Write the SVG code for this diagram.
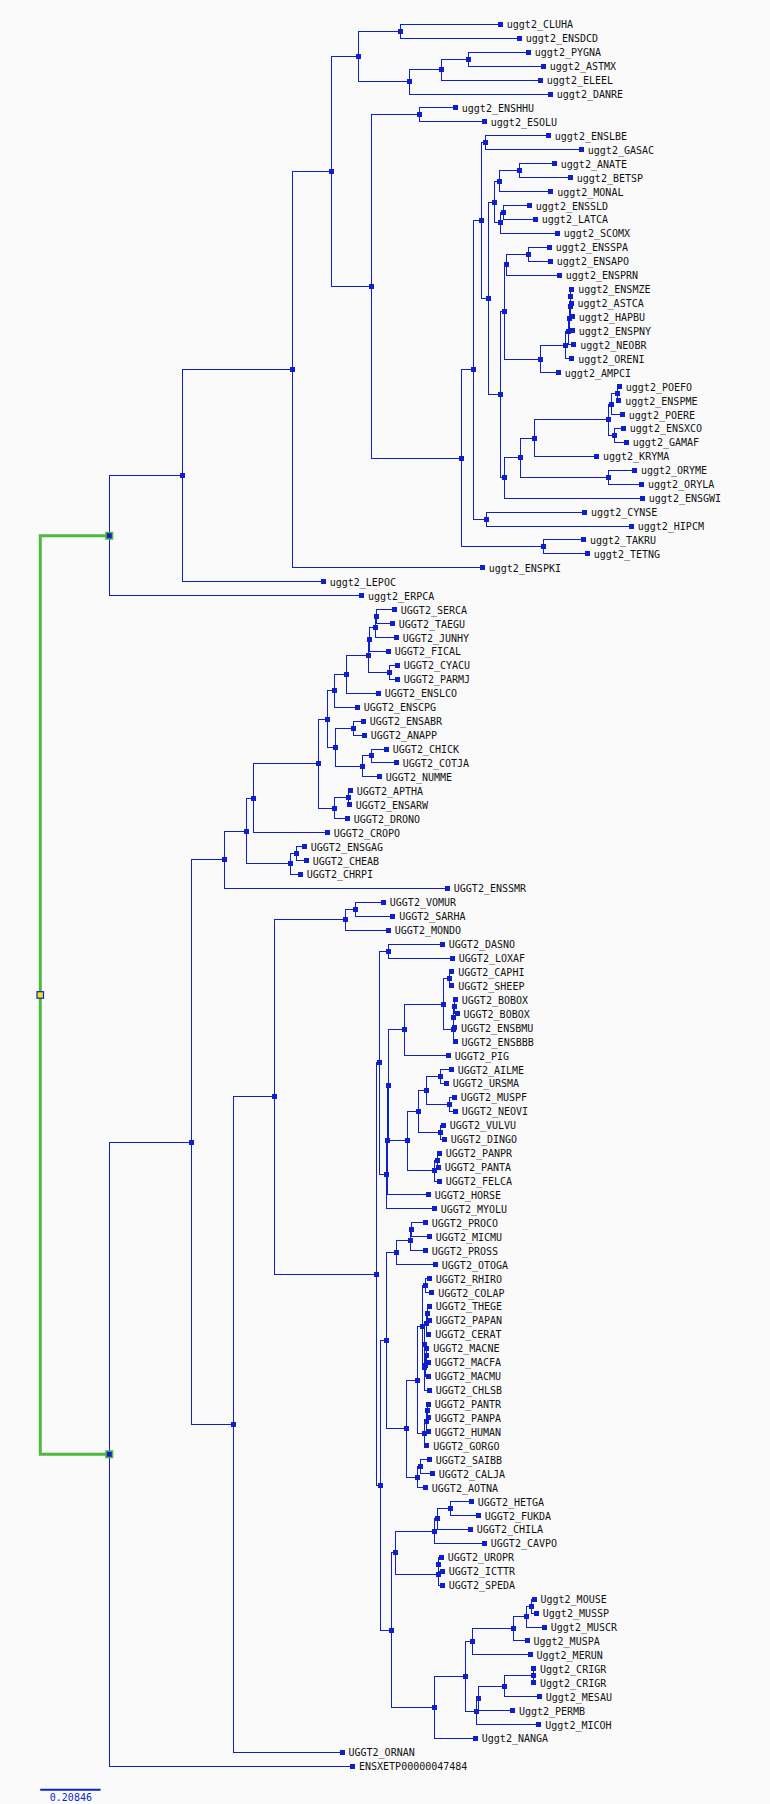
<svg xmlns="http://www.w3.org/2000/svg" xmlns:xlink="http://www.w3.org/1999/xlink" width="770" height="1804" viewBox="0 0 770 1804">
<style>
.e{fill:none;stroke:#0f1fcc;stroke-width:1;shape-rendering:crispEdges}
.g{fill:none;stroke:#4cbb3a;stroke-width:3}
.sq{fill:#0f1fcc;shape-rendering:crispEdges}
text{font-family:"DejaVu Sans Mono","Liberation Mono",monospace;font-size:10px;fill:#111}
.sb{fill:#0f1fcc}
</style>
<defs>
<rect id="s" class="sq" x="-2.5" y="-2.5" width="5" height="5"/>
</defs>
<rect width="770" height="1804" fill="#fafafa"/>
<g id="connectors">
<path class="g" d="M109.3 535.7H40.3V1454.2H109.3"/>
<path class="e" d="M500.3 24.3H400.3V38.2H519.3M528.3 52.2H468.3V66.1H543.3M468.3 59.15H441.3V80H540.3M441.3 69.6H409.3V94H550.3M400.3 31.25H358.3V81.8H409.3M455.3 107.9H419.3V121.9H484.3M548.3 135.8H485.3V149.7H581.3M554.3 163.7H519.3V177.6H570.3M519.3 170.65H499.3V191.5H550.7M529.3 205.5H503.3V219.4H535.3M503.3 212.45H500.3V233.3H557.3M499.3 181.1H494.3V222.9H500.3M549.3 247.3H528.3V261.2H550.3M528.3 254.25H506.3V275.1H559.3M571.7 289.1H570.8V303H571M570.8 296.05H570V316.9H572.3M570 306.5H569.3V330.9H572.3M569.3 318.7H568.5V344.8H573.7M568.5 331.75H565.3V358.8H571.7M565.3 345.3H540.3V372.7H558.3M506.3 264.7H504.3V359H540.3M619.3 386.6H617.3V400.6H618.7M617.3 393.6H611V414.5H622.3M623.3 428.4H614.3V442.4H626.3M611 404.05H608.3V435.4H614.3M608.3 419.7H534.3V456.3H596.5M634.4 470.3H608.3V484.2H641.5M534.3 438H520.5V477.25H608.3M520.5 457.6H504.3V498.1H642.3M504.3 311.85H500.3V477.85H504.3M494.3 202H488.3V394.85H500.3M485.3 142.75H481.3V298.4H488.3M584.6 512.1H486.5V526H631.2M481.3 220.6H473.7V519.05H486.5M583.4 539.9H543V553.9H587.3M473.7 369.8H461.2V546.9H543M419.3 114.9H371.3V458.35H461.2M358.3 56.5H331.3V286.6H371.3M331.3 171.55H292.3V567.8H482.2M292.3 369.7H182.4V581.7H323.2M182.4 475.7H109.3V595.7H361.5"/>
<path class="e" d="M394.3 609.6H376.3V623.5H392.3M376.3 616.55H375.3V637.5H396.3M375.3 627H369.3V651.4H388.3M397.3 665.3H389.3V679.3H397.3M369.3 639.2H368.3V672.3H389.3M368.3 655.75H346.3V693.2H378.3M346.3 674.5H334.3V707.2H357.3M363.3 721.1H353.3V735H364.3M386.3 749H371.3V762.9H396.3M371.3 755.95H362.3V776.8H379.3M353.3 728.05H335.3V766.4H362.3M334.3 690.85H327.3V747.2H335.3M350.3 790.8H348.3V804.7H349.3M348.3 797.75H334.3V818.6H347.3M327.3 719H318.3V808.2H334.3M318.3 763.6H253.3V832.6H327.3M304.3 846.5H296.3V860.5H306.3M296.3 853.5H290.3V874.4H300.3M253.3 798.1H246.3V863.95H290.3M246.3 831H224.3V888.3H447.3"/>
<path class="e" d="M383.3 902.3H355.3V916.2H392.7M355.3 909.25H345.3V930.1H388.3M442.3 944.1H388.3V958H452.3M451.7 971.9H449.3V985.9H451.7M455.3 999.8H454V1013.8H457M454 1006.8H453.5V1027.7H454.5M453.5 1017.25H453V1041.6H455M449.3 978.9H443.3V1029.4H453M443.3 1004.15H404.3V1055.6H448.3M451.3 1069.5H440.3V1083.4H446.3M454.3 1097.4H449.3V1111.3H455.3M440.3 1076.45H426.3V1104.35H449.3M443.3 1125.2H440.3V1139.2H444.3M426.3 1090.4H418.3V1132.2H440.3M439.3 1153.1H437.3V1167.1H438.3M437.3 1160.1H434.3V1181H439.3M418.3 1111.3H407.3V1170.55H434.3M404.3 1029.9H388.3V1140.9H407.3M388.3 1085.4H387.3V1194.9H428.3M387.3 1140.15H386.3V1208.9H434.3M388.3 951.05H379.3V1174.5H386.3M425.3 1222.8H411.3V1236.7H429.3M411.3 1229.75H410.3V1250.7H425.3M410.3 1240.2H396.3V1264.6H435.3M429.3 1278.5H425.3V1292.5H431.7M429.3 1306.4H427.3V1320.4H429.3M427.3 1313.4H426.3V1334.3H428.7M426.7 1348.2H426V1362.2H428.3M426 1355.2H425.5V1376.1H428.3M426.3 1323.85H424.8V1365.65H425.5M424.8 1344.75H424.3V1390H429.3M425.3 1285.5H422.3V1367.4H424.3M428.3 1404H427.3V1417.9H428.3M427.3 1410.95H426V1431.8H428.3M426 1421.4H424.3V1445.8H426.7M422.3 1326.45H417.3V1433.6H424.3M429.3 1459.7H420.3V1473.7H432.3M420.3 1466.7H417.3V1487.6H425.3M417.3 1380H406.3V1477.15H417.3M396.3 1252.4H386.3V1428.6H406.3M471.3 1501.5H450.3V1515.5H478.3M450.3 1508.5H437.3V1529.4H470.3M437.3 1518.95H434.3V1543.3H484.3M441.3 1557.3H438.8V1571.2H442.3M438.8 1564.25H438.3V1585.1H442.3M434.3 1531.1H395.3V1574.7H438.3M534 1599.1H531V1613H536.3M531 1606.05H526V1627H544.3M526 1616.5H513.3V1640.9H527M513.3 1628.7H472.3V1654.8H530M533.5 1668.8V1682.7M533.5 1675.75H504.4V1696.6H539.2M504.4 1686.2H478.4V1710.6H512.4M478.4 1698.4H476.5V1724.5H538.8M472.3 1641.75H465.4V1711.45H476.5M465.4 1676.6H434.4V1738.4H475.3M395.3 1552.9H391.3V1707.5H434.4M386.3 1340.5H380.3V1630.2H391.3M379.3 1062.8H376.3V1485.35H380.3M345.3 919.7H274.3V1274.1H376.3M274.3 1096.9H233.3V1752.4H342M224.3 859.65H191.3V1424.65H233.3M191.3 1142.15H109.3V1766.3H352.5"/>
</g>
<g id="leaves">
<g id="L_CLUHA" transform="translate(500.3,24.3)"><use href="#s"/><text x="6.5" y="4">uggt2_CLUHA</text></g>
<g id="L_ENSDCD" transform="translate(519.3,38.2)"><use href="#s"/><text x="6.5" y="4">uggt2_ENSDCD</text></g>
<g id="L_PYGNA" transform="translate(528.3,52.2)"><use href="#s"/><text x="6.5" y="4">uggt2_PYGNA</text></g>
<g id="L_ASTMX" transform="translate(543.3,66.1)"><use href="#s"/><text x="6.5" y="4">uggt2_ASTMX</text></g>
<g id="L_ELEEL" transform="translate(540.3,80)"><use href="#s"/><text x="6.5" y="4">uggt2_ELEEL</text></g>
<g id="L_DANRE" transform="translate(550.3,94)"><use href="#s"/><text x="6.5" y="4">uggt2_DANRE</text></g>
<g id="L_ENSHHU" transform="translate(455.3,107.9)"><use href="#s"/><text x="6.5" y="4">uggt2_ENSHHU</text></g>
<g id="L_ESOLU" transform="translate(484.3,121.9)"><use href="#s"/><text x="6.5" y="4">uggt2_ESOLU</text></g>
<g id="L_ENSLBE" transform="translate(548.3,135.8)"><use href="#s"/><text x="6.5" y="4">uggt2_ENSLBE</text></g>
<g id="L_GASAC" transform="translate(581.3,149.7)"><use href="#s"/><text x="6.5" y="4">uggt2_GASAC</text></g>
<g id="L_ANATE" transform="translate(554.3,163.7)"><use href="#s"/><text x="6.5" y="4">uggt2_ANATE</text></g>
<g id="L_BETSP" transform="translate(570.3,177.6)"><use href="#s"/><text x="6.5" y="4">uggt2_BETSP</text></g>
<g id="L_MONAL" transform="translate(550.7,191.5)"><use href="#s"/><text x="6.5" y="4">uggt2_MONAL</text></g>
<g id="L_ENSSLD" transform="translate(529.3,205.5)"><use href="#s"/><text x="6.5" y="4">uggt2_ENSSLD</text></g>
<g id="L_LATCA" transform="translate(535.3,219.4)"><use href="#s"/><text x="6.5" y="4">uggt2_LATCA</text></g>
<g id="L_SCOMX" transform="translate(557.3,233.3)"><use href="#s"/><text x="6.5" y="4">uggt2_SCOMX</text></g>
<g id="L_ENSSPA" transform="translate(549.3,247.3)"><use href="#s"/><text x="6.5" y="4">uggt2_ENSSPA</text></g>
<g id="L_ENSAPO" transform="translate(550.3,261.2)"><use href="#s"/><text x="6.5" y="4">uggt2_ENSAPO</text></g>
<g id="L_ENSPRN" transform="translate(559.3,275.1)"><use href="#s"/><text x="6.5" y="4">uggt2_ENSPRN</text></g>
<g id="L_ENSMZE" transform="translate(571.7,289.1)"><use href="#s"/><text x="6.5" y="4">uggt2_ENSMZE</text></g>
<g id="L_ASTCA" transform="translate(571,303)"><use href="#s"/><text x="6.5" y="4">uggt2_ASTCA</text></g>
<g id="L_HAPBU" transform="translate(572.3,316.9)"><use href="#s"/><text x="6.5" y="4">uggt2_HAPBU</text></g>
<g id="L_ENSPNY" transform="translate(572.3,330.9)"><use href="#s"/><text x="6.5" y="4">uggt2_ENSPNY</text></g>
<g id="L_NEOBR" transform="translate(573.7,344.8)"><use href="#s"/><text x="6.5" y="4">uggt2_NEOBR</text></g>
<g id="L_ORENI" transform="translate(571.7,358.8)"><use href="#s"/><text x="6.5" y="4">uggt2_ORENI</text></g>
<g id="L_AMPCI" transform="translate(558.3,372.7)"><use href="#s"/><text x="6.5" y="4">uggt2_AMPCI</text></g>
<g id="L_POEFO" transform="translate(619.3,386.6)"><use href="#s"/><text x="6.5" y="4">uggt2_POEFO</text></g>
<g id="L_ENSPME" transform="translate(618.7,400.6)"><use href="#s"/><text x="6.5" y="4">uggt2_ENSPME</text></g>
<g id="L_POERE" transform="translate(622.3,414.5)"><use href="#s"/><text x="6.5" y="4">uggt2_POERE</text></g>
<g id="L_ENSXCO" transform="translate(623.3,428.4)"><use href="#s"/><text x="6.5" y="4">uggt2_ENSXCO</text></g>
<g id="L_GAMAF" transform="translate(626.3,442.4)"><use href="#s"/><text x="6.5" y="4">uggt2_GAMAF</text></g>
<g id="L_KRYMA" transform="translate(596.5,456.3)"><use href="#s"/><text x="6.5" y="4">uggt2_KRYMA</text></g>
<g id="L_ORYME" transform="translate(634.4,470.3)"><use href="#s"/><text x="6.5" y="4">uggt2_ORYME</text></g>
<g id="L_ORYLA" transform="translate(641.5,484.2)"><use href="#s"/><text x="6.5" y="4">uggt2_ORYLA</text></g>
<g id="L_ENSGWI" transform="translate(642.3,498.1)"><use href="#s"/><text x="6.5" y="4">uggt2_ENSGWI</text></g>
<g id="L_CYNSE" transform="translate(584.6,512.1)"><use href="#s"/><text x="6.5" y="4">uggt2_CYNSE</text></g>
<g id="L_HIPCM" transform="translate(631.2,526)"><use href="#s"/><text x="6.5" y="4">uggt2_HIPCM</text></g>
<g id="L_TAKRU" transform="translate(583.4,539.9)"><use href="#s"/><text x="6.5" y="4">uggt2_TAKRU</text></g>
<g id="L_TETNG" transform="translate(587.3,553.9)"><use href="#s"/><text x="6.5" y="4">uggt2_TETNG</text></g>
<g id="L_ENSPKI" transform="translate(482.2,567.8)"><use href="#s"/><text x="6.5" y="4">uggt2_ENSPKI</text></g>
<g id="L_LEPOC" transform="translate(323.2,581.7)"><use href="#s"/><text x="6.5" y="4">uggt2_LEPOC</text></g>
<g id="L_ERPCA" transform="translate(361.5,595.7)"><use href="#s"/><text x="6.5" y="4">uggt2_ERPCA</text></g>
<g id="L_SERCA" transform="translate(394.3,609.6)"><use href="#s"/><text x="6.5" y="4">UGGT2_SERCA</text></g>
<g id="L_TAEGU" transform="translate(392.3,623.5)"><use href="#s"/><text x="6.5" y="4">UGGT2_TAEGU</text></g>
<g id="L_JUNHY" transform="translate(396.3,637.5)"><use href="#s"/><text x="6.5" y="4">UGGT2_JUNHY</text></g>
<g id="L_FICAL" transform="translate(388.3,651.4)"><use href="#s"/><text x="6.5" y="4">UGGT2_FICAL</text></g>
<g id="L_CYACU" transform="translate(397.3,665.3)"><use href="#s"/><text x="6.5" y="4">UGGT2_CYACU</text></g>
<g id="L_PARMJ" transform="translate(397.3,679.3)"><use href="#s"/><text x="6.5" y="4">UGGT2_PARMJ</text></g>
<g id="L_ENSLCO" transform="translate(378.3,693.2)"><use href="#s"/><text x="6.5" y="4">UGGT2_ENSLCO</text></g>
<g id="L_ENSCPG" transform="translate(357.3,707.2)"><use href="#s"/><text x="6.5" y="4">UGGT2_ENSCPG</text></g>
<g id="L_ENSABR" transform="translate(363.3,721.1)"><use href="#s"/><text x="6.5" y="4">UGGT2_ENSABR</text></g>
<g id="L_ANAPP" transform="translate(364.3,735)"><use href="#s"/><text x="6.5" y="4">UGGT2_ANAPP</text></g>
<g id="L_CHICK" transform="translate(386.3,749)"><use href="#s"/><text x="6.5" y="4">UGGT2_CHICK</text></g>
<g id="L_COTJA" transform="translate(396.3,762.9)"><use href="#s"/><text x="6.5" y="4">UGGT2_COTJA</text></g>
<g id="L_NUMME" transform="translate(379.3,776.8)"><use href="#s"/><text x="6.5" y="4">UGGT2_NUMME</text></g>
<g id="L_APTHA" transform="translate(350.3,790.8)"><use href="#s"/><text x="6.5" y="4">UGGT2_APTHA</text></g>
<g id="L_ENSARW" transform="translate(349.3,804.7)"><use href="#s"/><text x="6.5" y="4">UGGT2_ENSARW</text></g>
<g id="L_DRONO" transform="translate(347.3,818.6)"><use href="#s"/><text x="6.5" y="4">UGGT2_DRONO</text></g>
<g id="L_CROPO" transform="translate(327.3,832.6)"><use href="#s"/><text x="6.5" y="4">UGGT2_CROPO</text></g>
<g id="L_ENSGAG" transform="translate(304.3,846.5)"><use href="#s"/><text x="6.5" y="4">UGGT2_ENSGAG</text></g>
<g id="L_CHEAB" transform="translate(306.3,860.5)"><use href="#s"/><text x="6.5" y="4">UGGT2_CHEAB</text></g>
<g id="L_CHRPI" transform="translate(300.3,874.4)"><use href="#s"/><text x="6.5" y="4">UGGT2_CHRPI</text></g>
<g id="L_ENSSMR" transform="translate(447.3,888.3)"><use href="#s"/><text x="6.5" y="4">UGGT2_ENSSMR</text></g>
<g id="L_VOMUR" transform="translate(383.3,902.3)"><use href="#s"/><text x="6.5" y="4">UGGT2_VOMUR</text></g>
<g id="L_SARHA" transform="translate(392.7,916.2)"><use href="#s"/><text x="6.5" y="4">UGGT2_SARHA</text></g>
<g id="L_MONDO" transform="translate(388.3,930.1)"><use href="#s"/><text x="6.5" y="4">UGGT2_MONDO</text></g>
<g id="L_DASNO" transform="translate(442.3,944.1)"><use href="#s"/><text x="6.5" y="4">UGGT2_DASNO</text></g>
<g id="L_LOXAF" transform="translate(452.3,958)"><use href="#s"/><text x="6.5" y="4">UGGT2_LOXAF</text></g>
<g id="L_CAPHI" transform="translate(451.7,971.9)"><use href="#s"/><text x="6.5" y="4">UGGT2_CAPHI</text></g>
<g id="L_SHEEP" transform="translate(451.7,985.9)"><use href="#s"/><text x="6.5" y="4">UGGT2_SHEEP</text></g>
<g id="L_BOBOX_1" transform="translate(455.3,999.8)"><use href="#s"/><text x="6.5" y="4">UGGT2_BOBOX</text></g>
<g id="L_BOBOX_2" transform="translate(457,1013.8)"><use href="#s"/><text x="6.5" y="4">UGGT2_BOBOX</text></g>
<g id="L_ENSBMU" transform="translate(454.5,1027.7)"><use href="#s"/><text x="6.5" y="4">UGGT2_ENSBMU</text></g>
<g id="L_ENSBBB" transform="translate(455,1041.6)"><use href="#s"/><text x="6.5" y="4">UGGT2_ENSBBB</text></g>
<g id="L_PIG" transform="translate(448.3,1055.6)"><use href="#s"/><text x="6.5" y="4">UGGT2_PIG</text></g>
<g id="L_AILME" transform="translate(451.3,1069.5)"><use href="#s"/><text x="6.5" y="4">UGGT2_AILME</text></g>
<g id="L_URSMA" transform="translate(446.3,1083.4)"><use href="#s"/><text x="6.5" y="4">UGGT2_URSMA</text></g>
<g id="L_MUSPF" transform="translate(454.3,1097.4)"><use href="#s"/><text x="6.5" y="4">UGGT2_MUSPF</text></g>
<g id="L_NEOVI" transform="translate(455.3,1111.3)"><use href="#s"/><text x="6.5" y="4">UGGT2_NEOVI</text></g>
<g id="L_VULVU" transform="translate(443.3,1125.2)"><use href="#s"/><text x="6.5" y="4">UGGT2_VULVU</text></g>
<g id="L_DINGO" transform="translate(444.3,1139.2)"><use href="#s"/><text x="6.5" y="4">UGGT2_DINGO</text></g>
<g id="L_PANPR" transform="translate(439.3,1153.1)"><use href="#s"/><text x="6.5" y="4">UGGT2_PANPR</text></g>
<g id="L_PANTA" transform="translate(438.3,1167.1)"><use href="#s"/><text x="6.5" y="4">UGGT2_PANTA</text></g>
<g id="L_FELCA" transform="translate(439.3,1181)"><use href="#s"/><text x="6.5" y="4">UGGT2_FELCA</text></g>
<g id="L_HORSE" transform="translate(428.3,1194.9)"><use href="#s"/><text x="6.5" y="4">UGGT2_HORSE</text></g>
<g id="L_MYOLU" transform="translate(434.3,1208.9)"><use href="#s"/><text x="6.5" y="4">UGGT2_MYOLU</text></g>
<g id="L_PROCO" transform="translate(425.3,1222.8)"><use href="#s"/><text x="6.5" y="4">UGGT2_PROCO</text></g>
<g id="L_MICMU" transform="translate(429.3,1236.7)"><use href="#s"/><text x="6.5" y="4">UGGT2_MICMU</text></g>
<g id="L_PROSS" transform="translate(425.3,1250.7)"><use href="#s"/><text x="6.5" y="4">UGGT2_PROSS</text></g>
<g id="L_OTOGA" transform="translate(435.3,1264.6)"><use href="#s"/><text x="6.5" y="4">UGGT2_OTOGA</text></g>
<g id="L_RHIRO" transform="translate(429.3,1278.5)"><use href="#s"/><text x="6.5" y="4">UGGT2_RHIRO</text></g>
<g id="L_COLAP" transform="translate(431.7,1292.5)"><use href="#s"/><text x="6.5" y="4">UGGT2_COLAP</text></g>
<g id="L_THEGE" transform="translate(429.3,1306.4)"><use href="#s"/><text x="6.5" y="4">UGGT2_THEGE</text></g>
<g id="L_PAPAN" transform="translate(429.3,1320.4)"><use href="#s"/><text x="6.5" y="4">UGGT2_PAPAN</text></g>
<g id="L_CERAT" transform="translate(428.7,1334.3)"><use href="#s"/><text x="6.5" y="4">UGGT2_CERAT</text></g>
<g id="L_MACNE" transform="translate(426.7,1348.2)"><use href="#s"/><text x="6.5" y="4">UGGT2_MACNE</text></g>
<g id="L_MACFA" transform="translate(428.3,1362.2)"><use href="#s"/><text x="6.5" y="4">UGGT2_MACFA</text></g>
<g id="L_MACMU" transform="translate(428.3,1376.1)"><use href="#s"/><text x="6.5" y="4">UGGT2_MACMU</text></g>
<g id="L_CHLSB" transform="translate(429.3,1390)"><use href="#s"/><text x="6.5" y="4">UGGT2_CHLSB</text></g>
<g id="L_PANTR" transform="translate(428.3,1404)"><use href="#s"/><text x="6.5" y="4">UGGT2_PANTR</text></g>
<g id="L_PANPA" transform="translate(428.3,1417.9)"><use href="#s"/><text x="6.5" y="4">UGGT2_PANPA</text></g>
<g id="L_HUMAN" transform="translate(428.3,1431.8)"><use href="#s"/><text x="6.5" y="4">UGGT2_HUMAN</text></g>
<g id="L_GORGO" transform="translate(426.7,1445.8)"><use href="#s"/><text x="6.5" y="4">UGGT2_GORGO</text></g>
<g id="L_SAIBB" transform="translate(429.3,1459.7)"><use href="#s"/><text x="6.5" y="4">UGGT2_SAIBB</text></g>
<g id="L_CALJA" transform="translate(432.3,1473.7)"><use href="#s"/><text x="6.5" y="4">UGGT2_CALJA</text></g>
<g id="L_AOTNA" transform="translate(425.3,1487.6)"><use href="#s"/><text x="6.5" y="4">UGGT2_AOTNA</text></g>
<g id="L_HETGA" transform="translate(471.3,1501.5)"><use href="#s"/><text x="6.5" y="4">UGGT2_HETGA</text></g>
<g id="L_FUKDA" transform="translate(478.3,1515.5)"><use href="#s"/><text x="6.5" y="4">UGGT2_FUKDA</text></g>
<g id="L_CHILA" transform="translate(470.3,1529.4)"><use href="#s"/><text x="6.5" y="4">UGGT2_CHILA</text></g>
<g id="L_CAVPO" transform="translate(484.3,1543.3)"><use href="#s"/><text x="6.5" y="4">UGGT2_CAVPO</text></g>
<g id="L_UROPR" transform="translate(441.3,1557.3)"><use href="#s"/><text x="6.5" y="4">UGGT2_UROPR</text></g>
<g id="L_ICTTR" transform="translate(442.3,1571.2)"><use href="#s"/><text x="6.5" y="4">UGGT2_ICTTR</text></g>
<g id="L_SPEDA" transform="translate(442.3,1585.1)"><use href="#s"/><text x="6.5" y="4">UGGT2_SPEDA</text></g>
<g id="L_MOUSE" transform="translate(534,1599.1)"><use href="#s"/><text x="6.5" y="4">Uggt2_MOUSE</text></g>
<g id="L_MUSSP" transform="translate(536.3,1613)"><use href="#s"/><text x="6.5" y="4">Uggt2_MUSSP</text></g>
<g id="L_MUSCR" transform="translate(544.3,1627)"><use href="#s"/><text x="6.5" y="4">Uggt2_MUSCR</text></g>
<g id="L_MUSPA" transform="translate(527,1640.9)"><use href="#s"/><text x="6.5" y="4">Uggt2_MUSPA</text></g>
<g id="L_MERUN" transform="translate(530,1654.8)"><use href="#s"/><text x="6.5" y="4">Uggt2_MERUN</text></g>
<g id="L_CRIGR_1" transform="translate(533.5,1668.8)"><use href="#s"/><text x="6.5" y="4">Uggt2_CRIGR</text></g>
<g id="L_CRIGR_2" transform="translate(533.5,1682.7)"><use href="#s"/><text x="6.5" y="4">Uggt2_CRIGR</text></g>
<g id="L_MESAU" transform="translate(539.2,1696.6)"><use href="#s"/><text x="6.5" y="4">Uggt2_MESAU</text></g>
<g id="L_PERMB" transform="translate(512.4,1710.6)"><use href="#s"/><text x="6.5" y="4">Uggt2_PERMB</text></g>
<g id="L_MICOH" transform="translate(538.8,1724.5)"><use href="#s"/><text x="6.5" y="4">Uggt2_MICOH</text></g>
<g id="L_NANGA" transform="translate(475.3,1738.4)"><use href="#s"/><text x="6.5" y="4">Uggt2_NANGA</text></g>
<g id="L_ORNAN" transform="translate(342,1752.4)"><use href="#s"/><text x="6.5" y="4">UGGT2_ORNAN</text></g>
<g id="L_ENSXETP" transform="translate(352.5,1766.3)"><use href="#s"/><text x="6.5" y="4">ENSXETP00000047484</text></g>
</g>
<g id="internal-nodes">
<g id="n_Fa" transform="translate(400.3,31.25)"><use href="#s"/></g>
<g id="n_Fb" transform="translate(468.3,59.15)"><use href="#s"/></g>
<g id="n_Fc" transform="translate(441.3,69.6)"><use href="#s"/></g>
<g id="n_Fd" transform="translate(409.3,81.8)"><use href="#s"/></g>
<g id="n_Fe" transform="translate(358.3,56.5)"><use href="#s"/></g>
<g id="n_Ff" transform="translate(419.3,114.9)"><use href="#s"/></g>
<g id="n_Fg" transform="translate(485.3,142.75)"><use href="#s"/></g>
<g id="n_Fh" transform="translate(519.3,170.65)"><use href="#s"/></g>
<g id="n_Fi" transform="translate(499.3,181.1)"><use href="#s"/></g>
<g id="n_Fj" transform="translate(503.3,212.45)"><use href="#s"/></g>
<g id="n_Fk" transform="translate(500.3,222.9)"><use href="#s"/></g>
<g id="n_Fl" transform="translate(494.3,202)"><use href="#s"/></g>
<g id="n_Fm" transform="translate(528.3,254.25)"><use href="#s"/></g>
<g id="n_Fn" transform="translate(506.3,264.7)"><use href="#s"/></g>
<g id="n_Ca" transform="translate(570.8,296.05)"><use href="#s"/></g>
<g id="n_Cb" transform="translate(570,306.5)"><use href="#s"/></g>
<g id="n_Cc" transform="translate(569.3,318.7)"><use href="#s"/></g>
<g id="n_Cd" transform="translate(568.5,331.75)"><use href="#s"/></g>
<g id="n_Ce" transform="translate(565.3,345.3)"><use href="#s"/></g>
<g id="n_Fo" transform="translate(540.3,359)"><use href="#s"/></g>
<g id="n_Fp" transform="translate(504.3,311.85)"><use href="#s"/></g>
<g id="n_Pa" transform="translate(617.3,393.6)"><use href="#s"/></g>
<g id="n_Pb" transform="translate(611,404.05)"><use href="#s"/></g>
<g id="n_Pc" transform="translate(614.3,435.4)"><use href="#s"/></g>
<g id="n_Pd" transform="translate(608.3,419.7)"><use href="#s"/></g>
<g id="n_K" transform="translate(534.3,438)"><use href="#s"/></g>
<g id="n_O" transform="translate(608.3,477.25)"><use href="#s"/></g>
<g id="n_M" transform="translate(520.5,457.6)"><use href="#s"/></g>
<g id="n_N" transform="translate(504.3,477.85)"><use href="#s"/></g>
<g id="n_Fq" transform="translate(500.3,394.85)"><use href="#s"/></g>
<g id="n_Fr" transform="translate(488.3,298.4)"><use href="#s"/></g>
<g id="n_Fs" transform="translate(481.3,220.6)"><use href="#s"/></g>
<g id="n_Ft" transform="translate(486.5,519.05)"><use href="#s"/></g>
<g id="n_P" transform="translate(473.7,369.8)"><use href="#s"/></g>
<g id="n_Fu" transform="translate(543,546.9)"><use href="#s"/></g>
<g id="n_Q" transform="translate(461.2,458.35)"><use href="#s"/></g>
<g id="n_Fv" transform="translate(371.3,286.6)"><use href="#s"/></g>
<g id="n_Fw" transform="translate(331.3,171.55)"><use href="#s"/></g>
<g id="n_R" transform="translate(292.3,369.7)"><use href="#s"/></g>
<g id="n_S" transform="translate(182.4,475.7)"><use href="#s"/></g>
<g id="n_Ba" transform="translate(376.3,616.55)"><use href="#s"/></g>
<g id="n_Bb" transform="translate(375.3,627)"><use href="#s"/></g>
<g id="n_Bc" transform="translate(369.3,639.2)"><use href="#s"/></g>
<g id="n_Bd" transform="translate(389.3,672.3)"><use href="#s"/></g>
<g id="n_Be" transform="translate(368.3,655.75)"><use href="#s"/></g>
<g id="n_Bf" transform="translate(346.3,674.5)"><use href="#s"/></g>
<g id="n_Bg" transform="translate(334.3,690.85)"><use href="#s"/></g>
<g id="n_Bh" transform="translate(353.3,728.05)"><use href="#s"/></g>
<g id="n_Bi" transform="translate(371.3,755.95)"><use href="#s"/></g>
<g id="n_Bj" transform="translate(362.3,766.4)"><use href="#s"/></g>
<g id="n_Bk" transform="translate(335.3,747.2)"><use href="#s"/></g>
<g id="n_Bl" transform="translate(327.3,719)"><use href="#s"/></g>
<g id="n_Bm" transform="translate(348.3,797.75)"><use href="#s"/></g>
<g id="n_Bn" transform="translate(334.3,808.2)"><use href="#s"/></g>
<g id="n_Bo" transform="translate(318.3,763.6)"><use href="#s"/></g>
<g id="n_Bp" transform="translate(253.3,798.1)"><use href="#s"/></g>
<g id="n_Bq" transform="translate(296.3,853.5)"><use href="#s"/></g>
<g id="n_Br" transform="translate(290.3,863.95)"><use href="#s"/></g>
<g id="n_Bs" transform="translate(246.3,831)"><use href="#s"/></g>
<g id="n_Bt" transform="translate(224.3,859.65)"><use href="#s"/></g>
<g id="n_Maa" transform="translate(355.3,909.25)"><use href="#s"/></g>
<g id="n_Mab" transform="translate(345.3,919.7)"><use href="#s"/></g>
<g id="n_Af" transform="translate(388.3,951.05)"><use href="#s"/></g>
<g id="n_Boa" transform="translate(449.3,978.9)"><use href="#s"/></g>
<g id="n_Bob" transform="translate(454,1006.8)"><use href="#s"/></g>
<g id="n_Boc" transform="translate(453.5,1017.25)"><use href="#s"/></g>
<g id="n_Bod" transform="translate(453,1029.4)"><use href="#s"/></g>
<g id="n_Boe" transform="translate(443.3,1004.15)"><use href="#s"/></g>
<g id="n_Ce2" transform="translate(404.3,1029.9)"><use href="#s"/></g>
<g id="n_Caa" transform="translate(440.3,1076.45)"><use href="#s"/></g>
<g id="n_Cab" transform="translate(449.3,1104.35)"><use href="#s"/></g>
<g id="n_Cac" transform="translate(426.3,1090.4)"><use href="#s"/></g>
<g id="n_Cad" transform="translate(440.3,1132.2)"><use href="#s"/></g>
<g id="n_Cae" transform="translate(418.3,1111.3)"><use href="#s"/></g>
<g id="n_Fea" transform="translate(437.3,1160.1)"><use href="#s"/></g>
<g id="n_Feb" transform="translate(434.3,1170.55)"><use href="#s"/></g>
<g id="n_Carn" transform="translate(407.3,1140.9)"><use href="#s"/></g>
<g id="n_La" transform="translate(388.3,1085.4)"><use href="#s"/></g>
<g id="n_Lb" transform="translate(387.3,1140.15)"><use href="#s"/></g>
<g id="n_Lc" transform="translate(386.3,1174.5)"><use href="#s"/></g>
<g id="n_Y1" transform="translate(379.3,1062.8)"><use href="#s"/></g>
<g id="n_Pra" transform="translate(411.3,1229.75)"><use href="#s"/></g>
<g id="n_Prb" transform="translate(410.3,1240.2)"><use href="#s"/></g>
<g id="n_Prc" transform="translate(396.3,1252.4)"><use href="#s"/></g>
<g id="n_OWa" transform="translate(425.3,1285.5)"><use href="#s"/></g>
<g id="n_OWb" transform="translate(427.3,1313.4)"><use href="#s"/></g>
<g id="n_OWc" transform="translate(426.3,1323.85)"><use href="#s"/></g>
<g id="n_OWd" transform="translate(426,1355.2)"><use href="#s"/></g>
<g id="n_OWe" transform="translate(425.5,1365.65)"><use href="#s"/></g>
<g id="n_OWf" transform="translate(424.8,1344.75)"><use href="#s"/></g>
<g id="n_OWg" transform="translate(424.3,1367.4)"><use href="#s"/></g>
<g id="n_OW" transform="translate(422.3,1326.45)"><use href="#s"/></g>
<g id="n_Apa" transform="translate(427.3,1410.95)"><use href="#s"/></g>
<g id="n_Apb" transform="translate(426,1421.4)"><use href="#s"/></g>
<g id="n_Ap" transform="translate(424.3,1433.6)"><use href="#s"/></g>
<g id="n_Cat" transform="translate(417.3,1380)"><use href="#s"/></g>
<g id="n_NWa" transform="translate(420.3,1466.7)"><use href="#s"/></g>
<g id="n_NW" transform="translate(417.3,1477.15)"><use href="#s"/></g>
<g id="n_Sim" transform="translate(406.3,1428.6)"><use href="#s"/></g>
<g id="n_Euarch" transform="translate(386.3,1340.5)"><use href="#s"/></g>
<g id="n_Hya" transform="translate(450.3,1508.5)"><use href="#s"/></g>
<g id="n_Hyb" transform="translate(437.3,1518.95)"><use href="#s"/></g>
<g id="n_Hyc" transform="translate(434.3,1531.1)"><use href="#s"/></g>
<g id="n_Sqa" transform="translate(438.8,1564.25)"><use href="#s"/></g>
<g id="n_Sqb" transform="translate(438.3,1574.7)"><use href="#s"/></g>
<g id="n_Roa" transform="translate(395.3,1552.9)"><use href="#s"/></g>
<g id="n_Mua" transform="translate(531,1606.05)"><use href="#s"/></g>
<g id="n_Mub" transform="translate(526,1616.5)"><use href="#s"/></g>
<g id="n_Muc" transform="translate(513.3,1628.7)"><use href="#s"/></g>
<g id="n_Mud" transform="translate(472.3,1641.75)"><use href="#s"/></g>
<g id="n_Cra" transform="translate(533.5,1675.75)"><use href="#s"/></g>
<g id="n_Crb" transform="translate(504.4,1686.2)"><use href="#s"/></g>
<g id="n_Crc" transform="translate(478.4,1698.4)"><use href="#s"/></g>
<g id="n_Crd" transform="translate(476.5,1711.45)"><use href="#s"/></g>
<g id="n_Mue" transform="translate(465.4,1676.6)"><use href="#s"/></g>
<g id="n_Muf" transform="translate(434.4,1707.5)"><use href="#s"/></g>
<g id="n_Ro" transform="translate(391.3,1630.2)"><use href="#s"/></g>
<g id="n_Y2" transform="translate(380.3,1485.35)"><use href="#s"/></g>
<g id="n_Pl" transform="translate(376.3,1274.1)"><use href="#s"/></g>
<g id="n_Th" transform="translate(274.3,1096.9)"><use href="#s"/></g>
<g id="n_W" transform="translate(233.3,1424.65)"><use href="#s"/></g>
<g id="n_V" transform="translate(191.3,1142.15)"><use href="#s"/></g>
<g id="n_T"><rect x="106" y="532.5" width="6.5" height="6.5" fill="#0f1fcc" stroke="#4cbb3a" stroke-width="1.5"/></g>
<g id="n_U"><rect x="106" y="1451" width="6.5" height="6.5" fill="#0f1fcc" stroke="#4cbb3a" stroke-width="1.5"/></g>
<g id="n_root"><rect x="37" y="991.7" width="6.5" height="6.5" fill="#f0e020" stroke="#0f1fcc" stroke-width="1.2"/></g>
</g>
<g id="scale-bar">
<line x1="40.2" y1="1789.7" x2="100.6" y2="1789.7" stroke="#0f1fcc" stroke-width="2"/>
<text class="sb" x="49.8" y="1801">0.20846</text>
</g>
</svg>
